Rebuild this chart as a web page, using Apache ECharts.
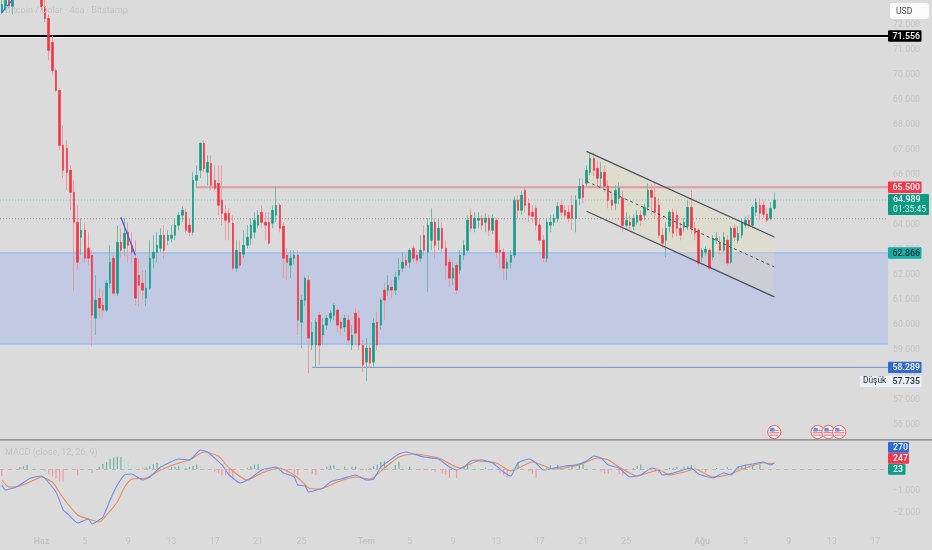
<!DOCTYPE html>
<html><head><meta charset="utf-8">
<style>html,body{margin:0;padding:0;background:#dbdbdb;overflow:hidden}#c{width:932px;height:550px}</style>
<script src="https://cdn.jsdelivr.net/npm/echarts@6/dist/echarts.min.js"></script>
</head><body><div id="c"></div>
<script>
// 8-hour candles (thousands of USD)
const opens=[72.50,72.66,73.06,72.74,73.22,74.18,74.90,74.42,75.38,74.74,
75.30,74.18,72.74,72.26,71.30,70.18,69.38,67.18,67.06,66.18,
65.30,64.10,63.50,63.78,63.06,62.78,60.26,61.06,60.78,60.58,
61.66,62.66,61.26,63.30,63.06,63.70,63.18,62.66,61.98,61.66,
61.06,61.46,62.66,62.90,63.06,63.58,63.38,63.46,63.58,63.98,
64.38,64.50,63.98,63.70,65.78,66.18,67.26,66.10,66.46,65.78,
65.66,64.98,64.46,64.46,64.06,62.26,62.90,62.82,63.18,63.46,
63.70,63.98,64.50,64.10,64.10,64.06,64.38,64.78,63.94,62.78,
62.38,62.66,62.78,60.10,60.98,61.78,59.18,59.18,60.38,59.58,
59.98,60.26,60.38,60.58,60.10,59.90,60.18,59.18,60.46,60.26,
59.18,58.50,59.06,58.50,60.10,59.98,61.38,61.38,61.50,61.38,
61.98,62.26,62.58,62.50,63.06,62.78,62.66,63.58,62.90,63.38,
64.10,63.38,63.86,63.06,62.50,61.86,62.38,62.18,62.78,62.98,
64.38,63.86,64.18,64.26,64.10,64.26,63.78,64.18,62.98,62.90,
62.26,62.50,62.78,64.98,64.58,65.38,64.86,64.50,64.66,63.98,
63.38,62.66,63.98,64.10,64.26,64.78,64.58,64.50,64.78,64.26,
65.06,65.58,65.66,66.10,66.66,66.26,65.86,66.10,65.54,64.98,
64.86,65.06,65.06,63.98,64.10,63.94,64.10,64.38,64.38,64.70,
65.38,65.10,64.78,63.58,63.38,63.94,64.50,64.38,63.86,63.90,
63.94,64.70,63.86,63.78,62.70,62.90,62.98,62.70,63.38,63.30,
62.98,63.38,62.50,63.86,63.38,63.58,63.98,64.18,63.98,64.50,
64.78,64.78,64.42,64.26,64.66];
const closes=[72.82,73.06,72.74,73.22,74.18,74.90,74.42,75.38,74.74,75.30,
74.18,72.74,72.26,70.98,70.18,69.38,67.18,66.18,66.10,65.30,
64.10,62.50,63.78,62.66,62.66,60.38,60.98,60.66,60.58,61.66,
62.50,61.26,63.30,62.98,63.66,63.18,62.90,61.06,61.58,61.38,
61.46,62.66,62.90,63.18,63.58,62.98,63.58,63.58,63.98,64.38,
64.58,63.78,63.70,65.78,65.98,67.26,66.26,66.50,65.58,65.46,
64.78,64.46,64.18,64.10,62.26,62.98,62.38,63.18,63.50,63.98,
64.18,64.38,64.10,63.98,63.26,64.58,64.78,63.86,62.66,62.50,
62.66,62.78,60.18,60.98,61.86,59.46,59.70,60.10,59.18,59.98,
60.26,60.46,60.78,59.98,59.86,60.26,59.38,59.58,59.66,59.18,
58.38,59.06,58.46,60.06,59.18,60.98,60.98,61.58,61.38,61.90,
62.18,62.50,62.38,62.98,62.66,62.58,62.98,62.98,63.98,64.10,
63.18,63.86,63.06,62.38,61.86,62.26,61.38,62.78,63.18,64.18,
63.86,64.26,64.26,63.98,64.26,63.78,64.26,62.90,62.90,62.26,
62.50,62.78,64.98,64.58,65.18,64.78,64.38,64.34,63.98,63.38,
62.66,64.10,64.10,64.26,64.74,64.50,64.38,64.26,64.26,64.98,
65.54,65.10,66.18,66.66,66.18,65.86,66.10,65.54,64.98,64.78,
65.38,65.46,63.98,64.18,63.98,64.26,64.38,64.18,64.70,65.38,
65.10,64.50,63.58,63.26,63.86,64.50,63.66,63.86,63.58,64.10,
64.70,63.86,63.66,62.46,62.98,63.02,62.26,63.46,63.46,62.98,
63.50,62.46,63.86,63.50,63.66,64.10,64.18,63.98,64.70,64.90,
64.46,64.42,64.18,64.66,64.989];
const highs=[73.06,73.38,73.22,73.38,74.34,75.22,75.22,75.54,75.62,75.46,
75.46,74.34,73.06,72.42,71.58,70.26,69.46,67.98,67.38,66.38,
65.78,64.78,64.26,64.10,63.70,62.98,61.98,61.46,61.38,61.78,
63.18,62.78,63.98,63.86,64.26,64.10,63.70,63.38,62.66,62.18,
62.18,63.38,63.58,63.70,63.86,63.98,63.78,63.98,64.26,64.50,
64.74,64.66,64.26,66.10,66.38,67.30,67.38,66.78,66.78,66.38,
66.38,66.38,64.78,64.66,64.38,63.38,63.38,63.78,63.98,64.26,
64.50,64.58,64.78,64.50,64.50,64.78,65.54,64.86,64.10,63.06,
62.98,62.98,62.98,61.18,61.94,61.98,60.10,60.26,60.50,60.26,
60.38,60.58,60.86,60.66,60.26,60.38,60.38,59.98,60.66,60.58,
59.38,59.46,59.18,60.26,60.50,61.06,61.66,61.98,61.78,62.10,
62.66,62.90,62.86,63.06,63.18,62.98,63.58,63.98,64.26,64.66,
64.26,64.26,64.10,63.38,62.66,62.50,62.50,62.98,63.38,64.38,
64.66,64.50,64.50,64.38,64.46,64.38,64.42,64.26,63.38,63.06,
62.66,62.98,65.14,65.18,65.38,65.46,65.06,64.78,64.78,64.26,
63.58,64.26,64.38,64.42,64.90,64.98,64.78,64.78,65.18,65.18,
65.86,65.86,66.38,66.90,66.90,66.58,66.50,66.38,65.78,65.38,
65.58,65.70,65.38,64.50,64.38,64.42,64.58,64.58,64.86,65.66,
65.62,65.70,65.06,63.86,64.10,64.58,64.66,64.58,64.10,64.26,
64.98,65.38,64.10,63.86,63.06,63.14,63.06,63.58,63.70,63.54,
63.70,63.58,63.94,64.02,63.94,64.26,64.34,64.38,64.78,65.06,
65.06,64.98,64.66,64.90,65.30];
const lows=[72.42,72.58,72.66,72.42,73.14,74.02,74.18,74.26,74.58,74.58,
74.02,72.58,72.10,70.58,69.98,69.30,66.98,65.86,65.38,64.58,
61.34,62.18,62.78,62.50,62.38,59.14,59.58,60.26,60.34,60.50,
61.46,61.18,61.14,62.66,62.74,62.50,62.46,60.78,60.74,60.98,
60.74,61.38,62.26,62.50,62.90,62.66,63.18,63.30,63.38,63.78,
64.10,63.66,63.54,63.58,65.46,65.86,66.10,65.58,65.38,65.38,
64.38,63.98,63.38,63.38,62.18,62.10,62.26,62.66,63.06,63.18,
63.46,63.86,63.86,63.38,63.18,63.86,64.10,63.70,61.86,61.78,
61.86,62.42,59.58,59.06,60.74,58.06,58.98,58.26,58.38,59.18,
59.78,60.10,60.18,59.70,59.58,59.70,59.18,58.98,59.18,58.98,
58.10,57.74,58.26,58.34,58.98,59.78,60.18,61.14,61.06,61.18,
61.78,62.10,62.26,62.26,62.50,62.42,62.50,62.74,61.30,62.98,
62.66,62.98,62.90,61.78,61.50,61.58,61.22,62.02,62.58,62.90,
63.70,63.70,63.86,63.78,63.70,63.54,63.62,62.66,62.26,61.78,
61.78,62.26,62.66,64.26,64.38,64.50,64.10,64.10,63.78,63.22,
62.50,62.50,63.70,63.94,64.10,64.34,64.26,64.10,63.78,63.70,
64.78,64.86,65.54,65.98,65.94,65.46,65.46,65.30,64.66,64.58,
64.58,64.82,63.70,63.78,63.70,63.78,63.98,63.94,64.18,64.58,
64.38,64.26,63.46,63.06,62.70,63.70,63.46,63.54,63.38,63.70,
63.78,63.62,63.38,62.34,62.50,62.74,62.18,62.58,63.22,62.82,
62.90,62.34,62.42,63.34,63.26,63.46,63.86,63.86,63.86,64.34,
64.18,64.26,64.10,64.18,64.58];

// MACD pane: [bar index, value]
const macdPoints=[[0,-727],[1,-955],[4,-818],[8,-409],[11,-318],[15,-1045],[17,-1864],[18,-2000],[21,-2454],[24,-2273],[25,-2500],[28,-2182],[30,-1409],[32,-727],[34,-273],[36,-227],[39,-500],[41,-364],[44,91],[49,455],[52,409],[55,864],[57,773],[61,182],[63,-273],[66,-636],[69,-409],[72,-45],[76,91],[78,-182],[81,-364],[82,-727],[84,-773],[85,-1045],[89,-864],[91,-591],[94,-455],[98,-273],[101,-500],[103,-455],[105,91],[108,455],[110,682],[112,773],[114,682],[117,545],[121,455],[124,91],[126,-45],[128,91],[130,364],[133,409],[136,273],[139,-136],[141,-318],[143,273],[146,455],[148,273],[150,-45],[153,45],[156,136],[159,182],[162,364],[164,591],[166,500],[168,182],[171,45],[174,-364],[177,-273],[180,45],[182,-45],[183,-273],[186,-182],[191,45],[193,-227],[197,-409],[200,-182],[202,-273],[204,91],[208,227],[211,318],[213,182],[214,270]];
const signalPoints=[[0,-500],[2,-818],[5,-773],[9,-500],[11,-364],[14,-591],[17,-1318],[21,-2091],[24,-2273],[27,-2409],[29,-2091],[32,-1500],[34,-818],[36,-455],[40,-409],[44,-45],[49,273],[52,409],[56,773],[60,591],[63,45],[68,-500],[72,-182],[77,45],[81,-273],[83,-545],[85,-864],[88,-909],[93,-591],[98,-364],[102,-455],[106,45],[110,545],[114,682],[121,500],[127,45],[132,364],[137,273],[141,-91],[147,318],[153,0],[160,182],[165,500],[168,409],[171,91],[176,-318],[182,-45],[185,-273],[189,-136],[192,0],[197,-364],[201,-273],[206,45],[211,273],[214,247]];
const histValues=[-320,-200,-100,-60,40,90,130,190,180,90,40,20,-100,-240,-350,-420,-560,-580,-200,-100,
-40,-300,-60,-50,-60,-180,20,100,230,320,450,520,560,560,460,340,230,120,30,30,
80,150,220,270,150,100,80,90,100,120,30,60,100,140,200,90,60,30,-30,-120,
-200,-280,-300,-350,-400,-200,-100,-20,60,120,200,230,120,90,60,30,50,-20,-60,-150,
-140,-220,-280,-200,-180,-100,-230,-280,-120,30,100,160,170,90,50,110,80,100,120,40,
-30,-60,60,120,190,320,350,230,110,180,330,130,100,110,50,-20,-30,-50,-60,-70,
-120,-110,-220,-250,-400,-230,-420,-30,100,230,210,100,80,60,60,-20,-50,-60,-200,-280,
-400,-320,200,320,130,-30,-100,-230,-400,-100,-50,60,150,100,180,130,110,60,180,160,
200,300,120,80,60,20,-120,-200,-230,-100,-40,-250,-280,-50,-30,40,150,200,100,40,
-60,-120,-180,-60,-30,40,50,90,60,100,110,170,100,40,-60,-150,-90,-30,50,40,
-20,90,60,30,130,150,200,180,180,90,200,60,-20,-60,23];

// Bottom axis labels
const tickIndex=[11,23,35,47,59,71,83,101,113,125,137,149,161,173,194,206,218,230,242];
const tickText=['Haz','5','9','13','17','21','25','Tem','5','9','13','17','21','25','Ağu','5','9','13','17'];
const boldTicks=['Haz','Tem','Ağu'];

// Drawn levels
const blackLevel=71.556, redLevel=65.5, redStart=54;
const lastPrice=64.989, dottedGray=64.24;
const bandTop=62.866, bandBottom=59.22;
const lowLevel=58.289, lowStart=86;
const channelTop=[[162,66.94],[214,63.51]];
const channelMid=[[162,65.74],[214,62.31]];
const channelBottom=[[162,64.54],[214,61.11]];
const trendA=[[33,64.30],[37,62.78]];
const trendB=[[0,72.50],[4,73.18]];
const flagIndex=[214,226,229,232];
const flagPrice=55.7;

// Right-hand price tags
const tagPrices=[71.556,65.5,62.866,58.289,57.735];
const tagTexts=['71.556','65.500','62.866','58.289','57.735'];
const tagFills=['#000000','#f5354a','#12aeac','#2f69d6','#e9f0f6'];
const tagColors=['#ffffff','#ffffff','#1c2a2a','#ffffff','#1f2937'];

const font='Roboto, sans-serif';
const faint='#c4c4c4';
const cats=opens.map((_,i)=>String(i));
for(let i=cats.length;i<246;i++)cats.push(String(i));
const UP='#0f9c85',DOWN='#f6303f',UPW='#74b8ac',DOWNW='#ec9aa1';

const chart=echarts.init(document.getElementById('c'),null,{renderer:'canvas'});

function edgeLine(api,cs,price,startIdx,color,width,dash){
  const y=api.coord([0,price])[1];
  const x1=startIdx==null?cs.x:api.coord([startIdx,price])[0];
  return {type:'line',shape:{x1,y1:y,x2:cs.x+cs.width,y2:y},style:{stroke:color,lineWidth:width,lineDash:dash||null}};
}
function seg(api,pts,color,width,dash){
  const a=api.coord(pts[0]),b=api.coord(pts[1]);
  return {type:'line',shape:{x1:a[0],y1:a[1],x2:b[0],y2:b[1]},style:{stroke:color,lineWidth:width,lineDash:dash||null}};
}
function renderUnder(p,api){
  const cs=p.coordSys;
  const t=api.coord([0,bandTop])[1],b=api.coord([0,bandBottom])[1];
  const q=[channelTop[0],channelTop[1],channelBottom[1],channelBottom[0]].map(c=>api.coord(c));
  return {type:'group',children:[
    {type:'rect',shape:{x:cs.x,y:t,width:cs.width,height:b-t},style:{fill:'#c1c9e3'}},
    edgeLine(api,cs,bandTop,null,'#a6c4f2',2),
    edgeLine(api,cs,bandBottom,null,'#a6c4f2',2),
    {type:'polygon',shape:{points:q},style:{fill:'rgba(236,226,170,0.24)'}},
    edgeLine(api,cs,lastPrice,null,'#86c6c6',1,[1,2]),
    edgeLine(api,cs,dottedGray,null,'#969696',1,[1,2]),
    edgeLine(api,cs,redLevel,redStart,'#e2989e',2),
    edgeLine(api,cs,lowLevel,lowStart,'#6c8fdc',1),
    edgeLine(api,cs,blackLevel-0.05,null,'#f4f4f4',1),
    edgeLine(api,cs,blackLevel,null,'#000000',2)
  ]};
}
function renderOver(p,api){
  return {type:'group',children:[
    seg(api,channelTop,'#4a4f5c',1.2),
    seg(api,channelMid,'#4a4f5c',1,[3,3]),
    seg(api,channelBottom,'#4a4f5c',1.2),
    seg(api,trendA,'#3f63d6',1.3),
    seg(api,trendB,'#3f6fe0',1.3)
  ]};
}
function renderFlag(p,api){
  const c=api.coord([api.value(0),flagPrice]);
  const x=c[0],y=c[1];
  return {type:'group',children:[
    {type:'circle',shape:{cx:x,cy:y,r:6.6},style:{fill:'#f7f7f7',stroke:'#ee5a66',lineWidth:1}},
    {type:'rect',shape:{x:x-4.4,y:y-2.2,width:8.8,height:1},style:{fill:'#ee6a72'}},
    {type:'rect',shape:{x:x-5,y:y+0.2,width:10,height:1},style:{fill:'#ee6a72'}},
    {type:'rect',shape:{x:x-4.4,y:y+2.6,width:8.8,height:1},style:{fill:'#ee6a72'}},
    {type:'rect',shape:{x:x-4,y:y-4.2,width:4.2,height:3.8},style:{fill:'#6f8fdc'}}
  ]};
}
function renderTag(p,api){
  const i=api.value(0),cs=p.coordSys,x0=cs.x+cs.width;
  const y=api.coord([0,tagPrices[i]])[1];
  return {type:'group',children:[
    {type:'rect',shape:{x:x0,y:y-5.7,width:33.5,height:11.4,r:1},style:{fill:tagFills[i]}},
    {type:'text',style:{text:tagTexts[i],x:x0+4.5,y:y+0.5,fill:tagColors[i],font:'500 8.8px '+font,textVerticalAlign:'middle'}}
  ]};
}

chart.setOption({
  animation:false,backgroundColor:'#dbdbdb',
  grid:[
    {left:0,right:44,top:-0.5,height:450,containLabel:false,show:false},
    {left:0,right:44,top:447,height:88,containLabel:false,show:false}
  ],
  xAxis:[
    {type:'category',gridIndex:0,data:cats,boundaryGap:true,axisLine:{show:false},axisTick:{show:false},axisLabel:{show:false},splitLine:{show:false}},
    {type:'category',gridIndex:1,data:cats,boundaryGap:true,axisLine:{show:false},axisTick:{show:false},splitLine:{show:false},
     axisLabel:{show:true,margin:2.5,hideOverlap:false,color:faint,fontFamily:font,fontSize:8.8,
       interval:(i)=>tickIndex.includes(i),
       formatter:(v)=>{const k=tickIndex.indexOf(+v);if(k<0)return '';const t=tickText[k];return boldTicks.includes(t)?'{b|'+t+'}':t;},
       rich:{b:{fontWeight:'bold',color:faint,fontFamily:font,fontSize:8.8}}}}
  ],
  yAxis:[
    {type:'value',gridIndex:0,position:'right',min:55,max:73,interval:1,axisLine:{show:false},axisTick:{show:false},splitLine:{show:false},
     axisLabel:{margin:5,padding:[1,0,0,0],color:faint,fontFamily:font,fontSize:8.8,showMinLabel:false,showMaxLabel:false,formatter:v=>(v<=55||v>=73)?'':v.toFixed(3)}},
    {type:'value',gridIndex:1,position:'right',min:-3000,max:1000,interval:1000,axisLine:{show:false},axisTick:{show:false},splitLine:{show:false},
     axisLabel:{margin:5,padding:[1,0,0,0],color:faint,fontFamily:font,fontSize:8.8,formatter:v=>v===0?'0':(v<0&&v>-3000?'\u2212'+(-v/1000).toFixed(3):'')}}
  ],
  series:[
    {type:'custom',xAxisIndex:0,yAxisIndex:0,z:1,silent:true,renderItem:renderUnder,data:[[0]]},
    {type:'candlestick',name:'wicks',xAxisIndex:0,yAxisIndex:0,z:2,silent:true,barWidth:0.3,clip:true,
     itemStyle:{color:UPW,color0:DOWNW,borderColor:UPW,borderColor0:DOWNW,borderWidth:1},
     data:opens.map((o,i)=>[o,closes[i],lows[i],highs[i]])},
    {type:'candlestick',name:'bodies',xAxisIndex:0,yAxisIndex:0,z:3,silent:true,barWidth:2,clip:true,
     itemStyle:{color:UP,color0:DOWN,borderColor:UP,borderColor0:DOWN,borderWidth:0.6},
     data:opens.map((o,i)=>[o,closes[i],Math.min(o,closes[i]),Math.max(o,closes[i])])},
    {type:'custom',xAxisIndex:0,yAxisIndex:0,z:5,silent:true,renderItem:renderOver,data:[[0]]},
    {type:'custom',xAxisIndex:0,yAxisIndex:0,z:6,silent:true,renderItem:renderFlag,clip:false,data:flagIndex.map(i=>[i])},
    {type:'custom',xAxisIndex:0,yAxisIndex:0,z:7,silent:true,renderItem:renderTag,clip:false,data:tagPrices.map((_,i)=>[i])},
    {type:'bar',xAxisIndex:1,yAxisIndex:1,z:2,silent:true,barWidth:1.2,
     data:histValues.map((v,i)=>{
       const prev=i?histValues[i-1]:0;
       const strong=Math.abs(v)>=Math.abs(prev);
       return {value:v,itemStyle:{color:v>=0?(strong?'#68b5a6':'#bcded8'):(strong?'#f09aa2':'#f3d3d6')}};
     }),
     markLine:{silent:true,symbol:'none',label:{show:false},lineStyle:{color:'#b8b8b8',type:[4,4],width:1},data:[{yAxis:0}]}},
    {type:'line',xAxisIndex:1,yAxisIndex:1,z:3,silent:true,showSymbol:false,smooth:0.2,lineStyle:{color:'#f18a52',width:1.1},data:signalPoints},
    {type:'line',xAxisIndex:1,yAxisIndex:1,z:4,silent:true,showSymbol:false,smooth:0.15,lineStyle:{color:'#6b8ff2',width:1.1},data:macdPoints}
  ],
  graphic:[
    {type:'text',left:5,top:6,z:20,silent:true,style:{text:'Bitcoin / Dolar · 4sa · Bitstamp',fill:faint,font:'9.1px '+font}},
    {type:'text',left:5,top:448,z:20,silent:true,style:{text:'MACD (close, 12, 26, 9)',fill:faint,font:'9px '+font}},
    {type:'rect',left:0,top:439.2,z:20,silent:true,shape:{width:932,height:1.4},style:{fill:'#7f7f7f'}},
    {type:'rect',left:890,top:3,z:20,silent:true,shape:{width:39,height:16,r:3},style:{fill:'#fbfbfb'}},
    {type:'text',left:896,top:7,z:21,silent:true,style:{text:'USD',fill:'#4a4a4a',font:'8.6px '+font}},
    // last price tag with countdown
    {type:'rect',left:888,top:194,z:20,silent:true,shape:{width:41,height:21,r:1},style:{fill:'#0b9a82'}},
    {type:'text',left:893,top:195.5,z:21,silent:true,style:{text:'64.989',fill:'#fff',font:'500 8.8px '+font}},
    {type:'text',left:893,top:205.5,z:21,silent:true,style:{text:'01:35:45',fill:'#e6f5f1',font:'8.6px '+font}},
    // low label
    {type:'rect',left:860,top:376,z:20,silent:true,shape:{width:28,height:11},style:{fill:'#e9f0f6'}},
    {type:'text',left:863,top:377,z:21,silent:true,style:{text:'Düşük',fill:'#1f2937',font:'8.4px '+font}},
    // MACD tags
    {type:'rect',left:888,top:442,z:20,silent:true,shape:{width:21,height:10.8,r:1},style:{fill:'#2f69d6'}},
    {type:'text',left:893,top:443,z:21,silent:true,style:{text:'270',fill:'#fff',font:'500 8.8px '+font}},
    {type:'rect',left:888,top:453,z:20,silent:true,shape:{width:21,height:10.8,r:1},style:{fill:'#f5354a'}},
    {type:'text',left:893,top:454,z:21,silent:true,style:{text:'247',fill:'#fff',font:'500 8.8px '+font}},
    {type:'rect',left:888,top:464,z:20,silent:true,shape:{width:17.5,height:10.8,r:1},style:{fill:'#0f9c85'}},
    {type:'text',left:893,top:465,z:21,silent:true,style:{text:'23',fill:'#fff',font:'500 8.8px '+font}}
  ]
});
</script></body></html>
